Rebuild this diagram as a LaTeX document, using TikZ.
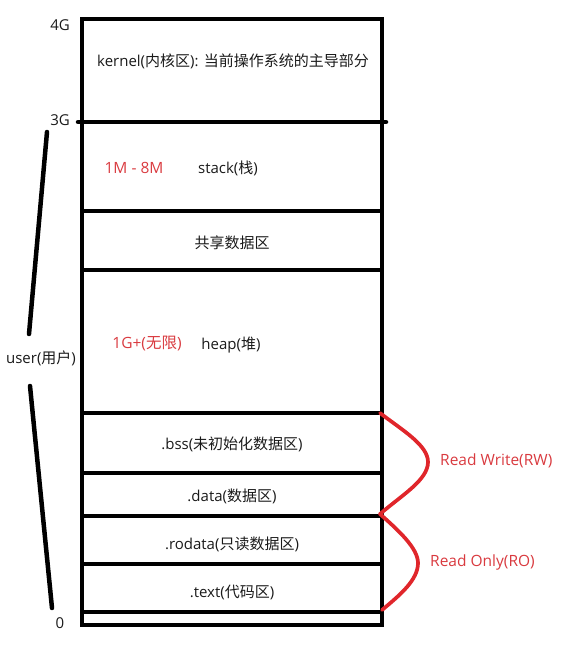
\documentclass[tikz,border=0pt]{standalone}
\usepackage{fontspec}
\setmainfont{Open Sans}
\newfontfamily\cjkf{Noto Sans CJK SC}
\newcommand{\zh}[1]{{\cjkf #1}}
\definecolor{myred}{HTML}{E0262B}
\definecolor{txtred}{HTML}{D93A3F}
\definecolor{txtblack}{HTML}{1A1A1A}
\begin{document}
\begin{tikzpicture}[x=1pt,y=-1pt,
  wall/.style={line width=4.5pt,line cap=round,black},
  brace/.style={line width=3.7pt,line cap=round,line join=round,myred},
  lbl/.style={inner sep=0pt,font=\fontsize{15}{18}\selectfont,text=txtblack},
  rlbl/.style={inner sep=0pt,font=\fontsize{15.5}{18}\selectfont,text=txtred}]
\useasboundingbox (0,0) rectangle (581,648);
% outer frame
\draw[wall,line cap=butt] (82,19) rectangle (382,625);
% dividers
\draw[wall] (78,122) -- (386,122);
\draw[wall,line cap=butt] (82,211) -- (382,211);
\draw[wall,line cap=butt] (82,270) -- (382,270);
\draw[wall,line cap=butt] (82,413) -- (382,413);
\draw[wall,line cap=butt] (82,473) -- (382,473);
\draw[wall,line cap=butt] (82,516) -- (382,516);
\draw[wall,line cap=butt] (82,564) -- (382,564);
\draw[wall,line cap=butt] (82,612) -- (382,612);
% address labels
\node[lbl] (g4) at (60,25) {4G};
\node[lbl] (g3) at (60,120) {3G};
\node[lbl] (g0) at (60,623) {0};
\node[lbl] (user) at (41,358) {user(\zh{用户})};
\coordinate (ua) at (47,132);
\coordinate (ub) at (29,334);
\coordinate (uc) at (30,386);
\coordinate (ud) at (52,608);
\draw[wall] (ua) -- (ub);
\draw[wall] (uc) -- (ud);
% section texts
\node[lbl] (kernel) at (233,61) {kernel(\zh{内核区}): \zh{当前操作系统的主导部分}};
\node[rlbl] (ssz) at (134,168) {1M - 8M};
\node[lbl] (stack) at (228,168) {stack(\zh{栈})};
\node[lbl] (shared) at (232,243) {\zh{共享数据区}};
\node[rlbl] (hsz) at (147,344) {1G+(\zh{无限})};
\node[lbl] (heap) at (231,345) {heap(\zh{堆})};
\node[lbl] (bss) at (232,444) {.bss(\zh{未初始化数据区})};
\node[lbl] (data) at (232,496) {.data(\zh{数据区})};
\node[lbl] (rodata) at (232,544) {.rodata(\zh{只读数据区})};
\node[lbl] (text) at (232,592) {.text(\zh{代码区})};
% red braces
\coordinate (r1) at (380,413);
\coordinate (r2) at (380,514);
\coordinate (r3) at (382,610);
\draw[brace] (r1) .. controls (402,430) and (428,445) .. (428,462)
  .. controls (428,480) and (402,495) .. (r2)
  .. controls (398,530) and (418,548) .. (418,563)
  .. controls (418,580) and (400,595) .. (r3);
\node[rlbl,anchor=west] (rw) at (440,461) {Read Write(RW)};
\node[rlbl,anchor=west] (ro) at (430,562) {Read Only(RO)};
\end{tikzpicture}
\end{document}
